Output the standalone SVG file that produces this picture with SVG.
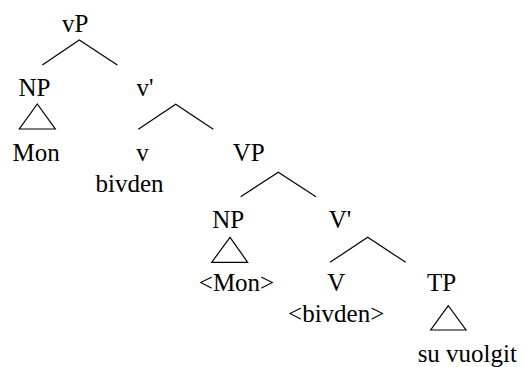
<svg xmlns="http://www.w3.org/2000/svg" width="523" height="367" viewBox="0 0 523 367">
<style>
text{font-family:"Liberation Serif","Times New Roman",serif;font-size:25px;fill:#000;text-anchor:middle}
.e{fill:none;stroke:#000;stroke-width:1.2}
</style>
<rect width="523" height="367" fill="#fff"/>
<g id="connectors">
<path class="e" d="M42.3,65 L79.3,40 L117.3,65"/>
<path class="e" d="M138.3,129.3 L175.7,104.3 L213.3,129.3"/>
<path class="e" d="M240.7,196.7 L278.3,172.3 L316,196.7"/>
<path class="e" d="M330,262.3 L367.7,237.3 L405.7,262.3"/>
<path class="e" d="M37.3,104 L19.3,129 L55.3,129 Z"/>
<path class="e" d="M230,237.3 L211.7,262.3 L247.7,262.3 Z"/>
<path class="e" d="M448.3,305.7 L430.7,330 L466,330 Z"/>
</g>
<g id="vP"><text x="75.3" y="32.3">vP</text></g>
<g id="NP1"><text x="34.5" y="96">NP</text></g>
<g id="vbar"><text x="145" y="96">v'</text></g>
<g id="Mon"><text x="36.2" y="161">Mon</text></g>
<g id="v"><text x="142.5" y="161">v</text>
<text x="129.5" y="192">bivden</text></g>
<g id="VP"><text x="248.8" y="160.7">VP</text></g>
<g id="NP2"><text x="228.2" y="228.3">NP</text></g>
<g id="Vbar"><text x="340" y="228.3">V'</text></g>
<g id="Mon2"><text x="236.5" y="291">&lt;Mon&gt;</text></g>
<g id="V"><text x="336.2" y="291">V</text>
<text x="336.2" y="321.7">&lt;bivden&gt;</text></g>
<g id="TP"><text x="441.5" y="291">TP</text></g>
<g id="suvuolgit"><text x="467.3" y="362.3">su vuolgit</text></g>
</svg>
